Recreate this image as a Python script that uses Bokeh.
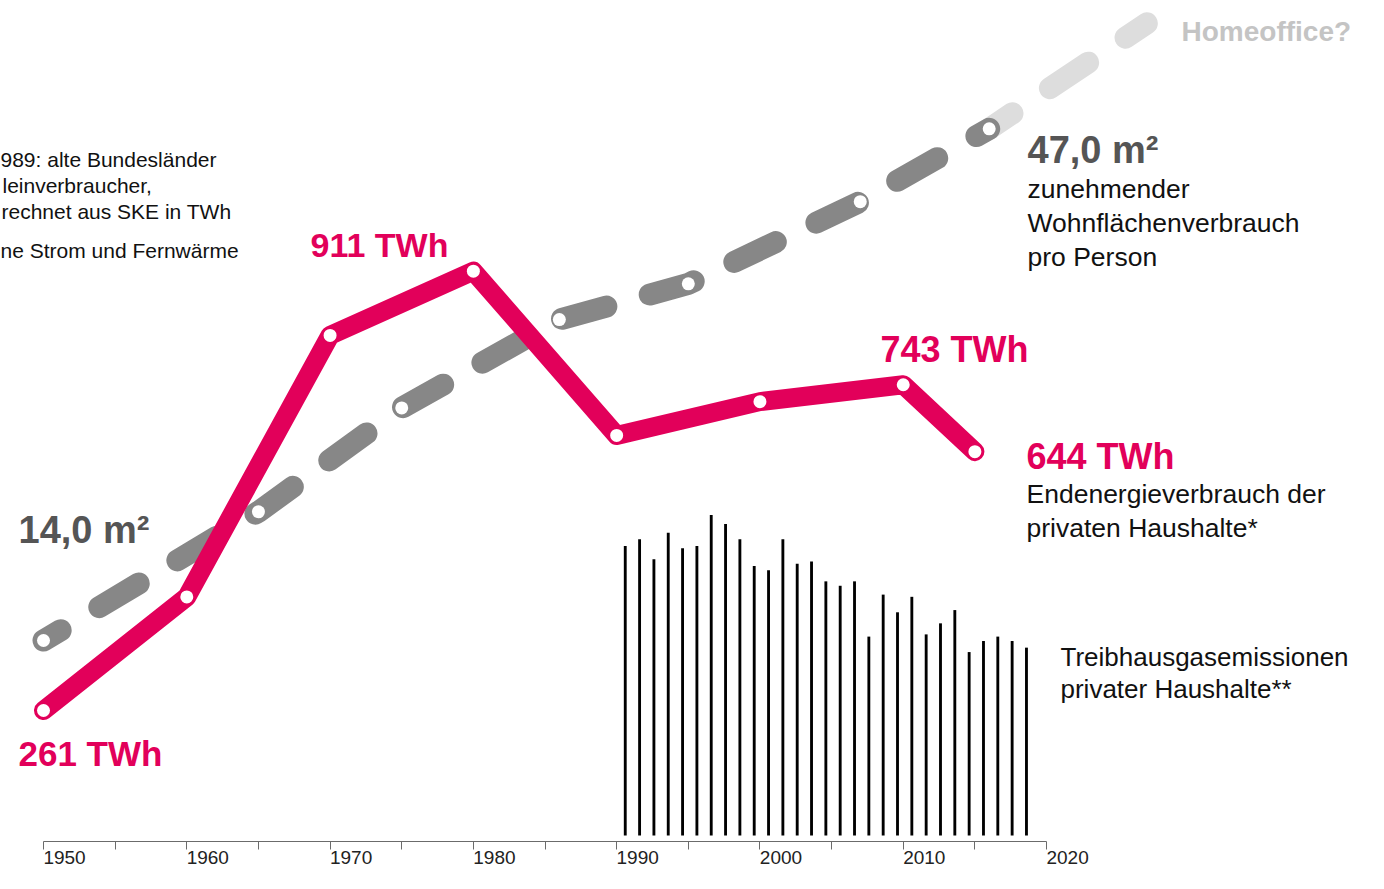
from bokeh.plotting import figure
from bokeh.models import Range1d, LinearAxis, FixedTicker
from bokeh.transform import dodge
from bokeh.core.properties import value
from bokeh.embed import file_html
from bokeh.resources import INLINE

# ---------------- data ----------------
energy_years = [1950, 1960, 1970, 1980, 1990, 2000, 2010, 2015]
energy_twh = [261, 429, 816, 911, 668, 718, 743, 644]

area_years = [1950, 1965, 1975, 1986, 1995, 2007, 2016]
area_m2 = [14.0, 22.3, 29.0, 34.7, 37.0, 42.3, 47.0]

proj_years = [2016, 2027]
proj_m2 = [47.0, 53.8]

ghg_years = list(range(1990, 2019))
ghg_mt = [131, 134, 125, 137, 130, 131, 145, 141, 134, 122, 120, 134, 123, 124,
          115, 113, 115, 90, 109, 101, 108, 91, 96, 102, 83, 88, 90, 88, 85]

minor_ticks = list(range(1950, 2021, 5))
label_ticks = list(range(1950, 2021, 10))

# ---------------- styles ----------------
RED = "#E2005A"
GRAY = "#878787"
LIGHT = "#DDDDDD"
FONT = "Liberation Sans"

p = figure(width=1368, height=873, output_backend="svg", toolbar_location=None,
           x_range=Range1d(1946.999, 2042.47), y_range=Range1d(67.17, 1311.5),
           x_axis_location=None, y_axis_location=None,
           min_border_left=0, min_border_right=0, min_border_top=0, min_border_bottom=32)
p.outline_line_color = None
p.background_fill_color = "white"
p.border_fill_color = "white"
p.grid.visible = False

p.extra_y_ranges = {
    "twh": Range1d(67.17, 1311.5),
    "m2": Range1d(1.038, 55.275),
    "ghg": Range1d(-2.715, 377.83),
    "py": Range1d(841, 0),
}
p.extra_x_ranges = {
    "lab": Range1d(1945.533, 2041.0),
    "px": Range1d(0, 1368),
}

# axis: line + ticks every 5 years (no labels)
ax = LinearAxis(ticker=FixedTicker(ticks=[], minor_ticks=minor_ticks), bounds=(1950, 2020),
                major_tick_out=0, major_tick_in=0, minor_tick_out=8, minor_tick_in=0,
                axis_line_color="#6b6b6b", minor_tick_line_color="#6b6b6b",
                major_label_standoff=0)
p.add_layout(ax, "below")
# axis: year labels, left-aligned to their ticks
axl = LinearAxis(x_range_name="lab", ticker=FixedTicker(ticks=label_ticks),
                 axis_line_color=None, major_tick_line_color=None, minor_tick_line_color=None,
                 major_tick_out=0, major_tick_in=0, major_label_standoff=1,
                 major_label_text_font=FONT, major_label_text_font_size="19px",
                 major_label_text_color="#222222")
p.add_layout(axl, "below")

# emissions bars
p.vbar(x=dodge("x", 0.6, range=p.x_range), top="top", bottom=0, width=0.2,
       source={"x": ghg_years, "top": ghg_mt}, y_range_name="ghg",
       fill_color="black", line_color=None)

# living-space line (dashed, thick)
p.line(proj_years, proj_m2, y_range_name="m2", line_width=22, line_color=LIGHT,
       line_dash="46 45", line_dash_offset=18, line_cap="round")
p.line(area_years, area_m2, y_range_name="m2", line_width=22, line_color=GRAY,
       line_dash="46 45", line_dash_offset=26, line_cap="round")
p.scatter(area_years, area_m2, y_range_name="m2", size=13, fill_color="white", line_color=None)

# energy line
p.line(energy_years, energy_twh, y_range_name="twh", line_width=19, line_color=RED,
       line_join="round", line_cap="round")
p.scatter(energy_years, energy_twh, y_range_name="twh", size=13, fill_color="white", line_color=None)


def txt(xs, ys, texts, size, color, bold=False):
    # ys are baselines; shift compensates for the baseline placement of the renderer
    ys = [y - 0.4 * size for y in ys]
    p.text(x=xs, y=ys, text=texts, x_range_name="px", y_range_name="py",
           text_font=value(FONT), text_font_size=f"{size}px", text_color=color,
           text_font_style="bold" if bold else "normal",
           text_align="left", text_baseline="alphabetic")


# red value labels
txt([310], [258], ["911 TWh"], 34, RED, bold=True)
txt([18], [767], ["261 TWh"], 35, RED, bold=True)
txt([880, 1026], [363, 470], ["743 TWh", "644 TWh"], 36, RED, bold=True)
# area labels
txt([18, 1027], [545, 165], ["14,0 m²", "47,0 m²"], 38, "#555555", bold=True)
txt([1181], [42], ["Homeoffice?"], 28, "#C4C4C4", bold=True)

# descriptions
txt([1027, 1027, 1027], [199, 233, 267],
    ["zunehmender", "Wohnflächenverbrauch", "pro Person"], 26.5, "#111111")
txt([1026, 1026], [504, 538],
    ["Endenergieverbrauch der", "privaten Haushalte*"], 26.5, "#111111")
txt([1060, 1060], [667, 699],
    ["Treibhausgasemissionen", "privater Haushalte**"], 26, "#111111")

# footnote (cut at the left edge in the original)
txt([0, 2, 1, 0], [167, 193, 219, 258],
    ["989: alte Bundesländer", "leinverbraucher,", "rechnet aus SKE in TWh",
     "ne Strom und Fernwärme"], 21, "#111111")

open("out.html", "w").write(file_html(p, INLINE))
